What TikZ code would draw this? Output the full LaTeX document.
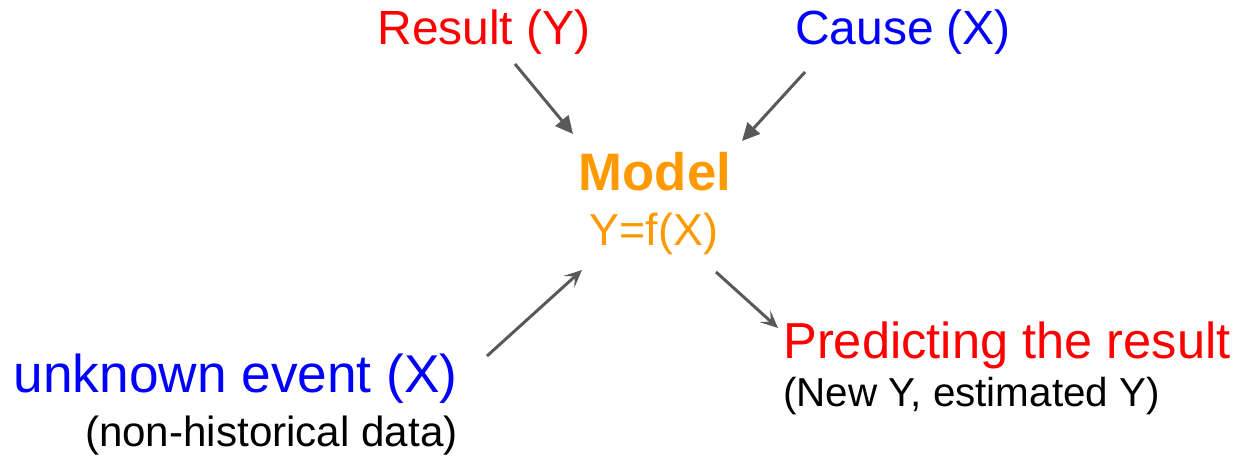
\documentclass[tikz,border=0pt]{standalone}
\usepackage{fontspec}
\setmainfont{Liberation Sans}
\usepackage{xcolor}
\usetikzlibrary{arrows.meta}
\definecolor{causecolor}{HTML}{0000FF}
\definecolor{resultcolor}{HTML}{FF0000}
\definecolor{modelcolor}{HTML}{FF9900}
\definecolor{arrowcolor}{HTML}{595959}

\begin{document}
\begin{tikzpicture}[
    x=0.02cm, y=-0.02cm,
    label/.style={inner sep=0pt, font=\fontsize{27.3}{30}\selectfont},
    biglabel/.style={inner sep=0pt, font=\fontsize{29.5}{32}\selectfont},
    note/.style={inner sep=0pt, font=\fontsize{23}{26}\selectfont},
    feed/.style={-{Triangle[length=10pt, width=9.5pt]}, line width=1.7pt, draw=arrowcolor, fill=arrowcolor},
    use/.style={-{Stealth[length=10pt, width=9pt, inset=4.5pt]}, line width=1.7pt, draw=arrowcolor, fill=arrowcolor}
]
\useasboundingbox (0,0) rectangle (1246,456);
\node[label, anchor=base, text=resultcolor] (result) at (484,45) {Result (Y)};
\node[label, anchor=base, text=causecolor] (cause) at (903,45) {Cause (X)};
\node[biglabel, anchor=base, text=modelcolor, font=\fontsize{30}{32}\selectfont\bfseries] (model) at (655,190) {Model};
\node[label, anchor=base, text=modelcolor, font=\fontsize{25.5}{28}\selectfont] (func) at (654,245) {Y=f(X)};
\node[biglabel, anchor=base west, text=resultcolor, font=\fontsize{28.8}{32}\selectfont] (predict) at (783,358) {Predicting the result};
\node[note, anchor=base west] (newy) at (783,406) {(New Y, estimated Y)};
\node[biglabel, anchor=base east, text=causecolor, font=\fontsize{30.3}{32}\selectfont] (unknown) at (458,392) {unknown event (X)};
\node[note, anchor=base east, font=\fontsize{24}{26}\selectfont] (nonhist) at (458,446) {(non-historical data)};
\draw[feed] ([shift={(31,19)}]result.base) -- ([shift={(-82,-56)}]model.base);
\draw[feed] ([shift={(-98,27)}]cause.base) -- ([shift={(87,-49)}]model.base);
\draw[use] ([shift={(29,-36)}]unknown.base east) -- ([shift={(-72,25)}]func.base);
\draw[use] ([shift={(62,27)}]func.base) -- ([shift={(-5,-30)}]predict.base west);
\end{tikzpicture}
\end{document}
